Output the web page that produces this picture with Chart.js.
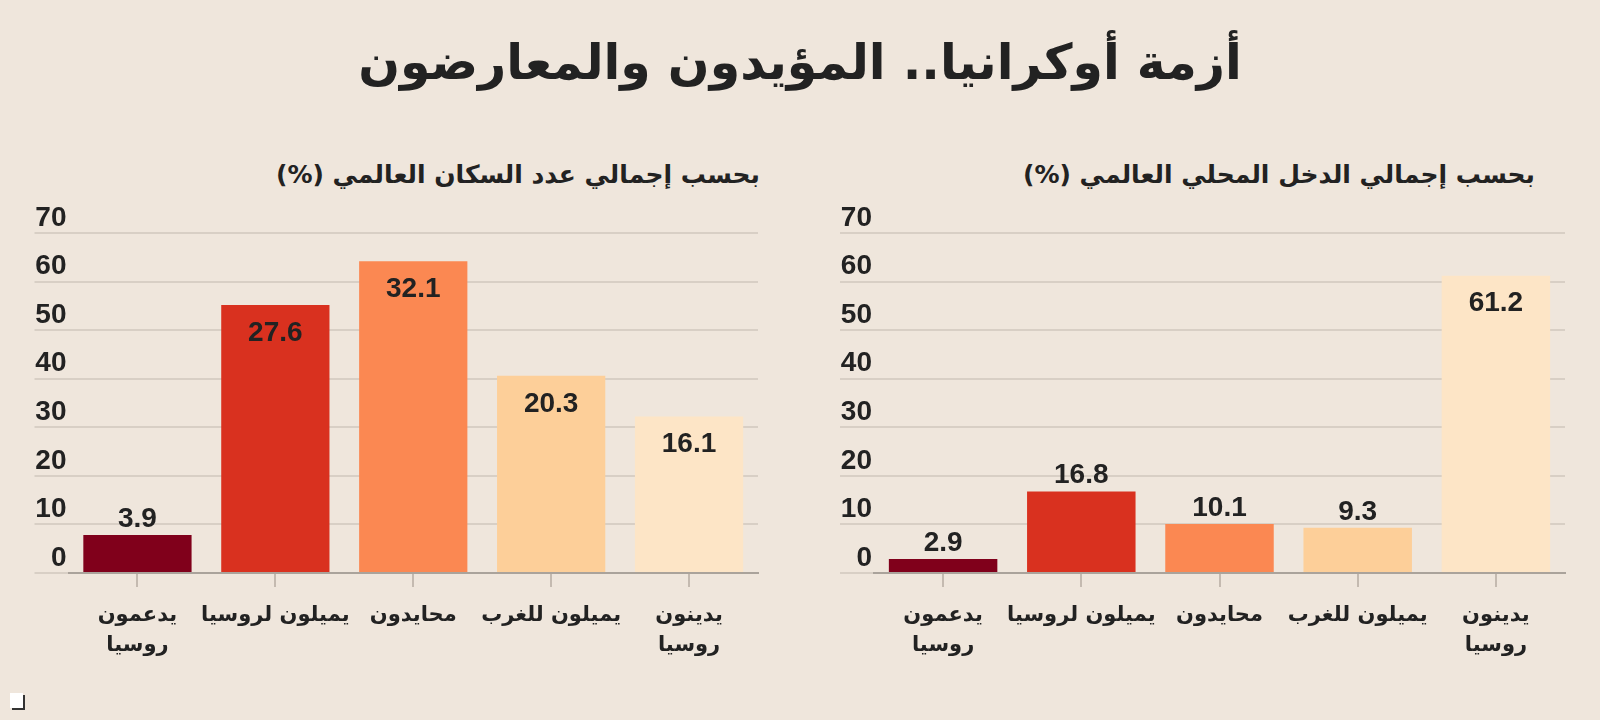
<!DOCTYPE html>
<html lang="ar">
<head>
  <meta charset="UTF-8">
  <title>أزمة أوكرانيا.. المؤيدون والمعارضون</title>
  <script src="https://cdn.jsdelivr.net/npm/chart.js"></script>
  <style>
    html, body {
      margin: 0;
      width: 1600px;
      height: 720px;
      overflow: hidden;
      background-color: #efe6dc;
      color: #222;
      font-family: "DejaVu Sans", sans-serif;
    }
    #title {
      position: absolute;
      top: 30px;
      left: 0;
      width: 1600px;
      margin: 0;
      text-align: center;
      font-size: 49px;
      line-height: 66px;
      font-weight: bold;
    }
    .sub {
      position: absolute;
      top: 157px;
      font-size: 25px;
      line-height: 36px;
      font-weight: bold;
      direction: rtl;
      white-space: nowrap;
    }
    #subLeft { right: 840px; }
    #subRight { right: 65px; }
    .box {
      position: absolute;
      top: 140px;
      height: 580px;
    }
    #leftBox { left: 0; width: 780px; }
    #rightBox { left: 800px; width: 800px; }
    .corner {
      position: absolute;
      left: 10px;
      top: 693px;
      width: 13px;
      height: 15px;
      background: #fff;
      box-shadow: 2px 2px 0 #333;
    }
  </style>
</head>
<body>

<h1 id="title">أزمة أوكرانيا.. المؤيدون والمعارضون</h1>
<div class="sub" id="subLeft">بحسب إجمالي عدد السكان العالمي (%)</div>
<div class="sub" id="subRight">بحسب إجمالي الدخل المحلي العالمي (%)</div>

<div class="box" id="leftBox"><canvas id="popChart"></canvas></div>
<div class="box" id="rightBox"><canvas id="gdpChart"></canvas></div>
<div class="corner"></div>

<script>

// categories, left to right as printed
const categories = [['يدعمون', 'روسيا'], 'يميلون لروسيا', 'محايدون', 'يميلون للغرب', ['يدينون', 'روسيا']];

// share of world population (%)
const populationShares = [3.9, 27.6, 32.1, 20.3, 16.1];
// share of world GDP (%)
const gdpShares = [2.9, 16.8, 10.1, 9.3, 61.2];

// printed y-axis labels (same on both panels)
const yTickLabels = ['0', '10', '20', '30', '40', '50', '60', '70'];

const barColors = ['#80001b', '#d9311f', '#fb8852', '#fdcf99', '#fde5c6'];

// numbers on the bars: inside for tall bars, above for short ones
const valueLabels = {
  id: 'valueLabels',
  afterDatasetsDraw(chart) {
    const ctx = chart.ctx;
    const values = chart.data.datasets[0].data;
    ctx.save();
    ctx.font = 'bold 28px "Liberation Sans", Arial, sans-serif';
    ctx.fillStyle = '#222';
    ctx.textAlign = 'center';
    ctx.textBaseline = 'middle';
    chart.getDatasetMeta(0).data.forEach((bar, i) => {
      const h = bar.base - bar.y;
      const y = h > 120 ? bar.y + 28 : bar.y - 16;
      ctx.fillText(String(values[i]), bar.x, y);
    });
    ctx.restore();
  }
};

function makeChart(canvasId, values, yMax, yStep, padLeft, padRight) {
  return new Chart(document.getElementById(canvasId), {
    type: 'bar',
    data: {
      labels: categories,
      datasets: [{
        data: values,
        backgroundColor: barColors,
        borderWidth: 0,
        barPercentage: 0.785,
        categoryPercentage: 1
      }]
    },
    options: {
      responsive: true,
      maintainAspectRatio: false,
      animation: false,
      layout: { padding: { top: 93, left: padLeft, right: padRight, bottom: 0 } },
      plugins: {
        legend: { display: false },
        tooltip: { enabled: false }
      },
      scales: {
        x: {
          grid: {
            display: true,
            drawOnChartArea: false,
            offset: false,
            tickLength: 14,
            color: 'rgba(160,150,140,0.55)',
            lineWidth: 2
          },
          border: { display: true, color: '#aaa39b', width: 2 },
          ticks: {
            color: '#222',
            padding: 14,
            maxRotation: 0,
            minRotation: 0,
            autoSkip: false,
            font: { family: '"DejaVu Sans", sans-serif', size: 21, weight: 'bold', lineHeight: 1.4 }
          },
          afterFit: scale => { scale.height = 147; }
        },
        y: {
          min: 0,
          max: yMax,
          ticks: {
            stepSize: yStep,
            color: '#222',
            padding: -32,
            labelOffset: -15,
            font: { family: '"Liberation Sans", Arial, sans-serif', size: 28, weight: 'bold' },
            callback: (v, i) => yTickLabels[i]
          },
          grid: {
            color: '#d8cfc5',
            lineWidth: 2,
            tickLength: 34
          },
          border: { display: false },
          afterFit: scale => { scale.width = 34; }
        }
      }
    },
    plugins: [valueLabels]
  });
}

makeChart('popChart', populationShares, 35, 5, 34.5, 22);
makeChart('gdpChart', gdpShares, 70, 10, 40, 35);

</script>

</body>
</html>
